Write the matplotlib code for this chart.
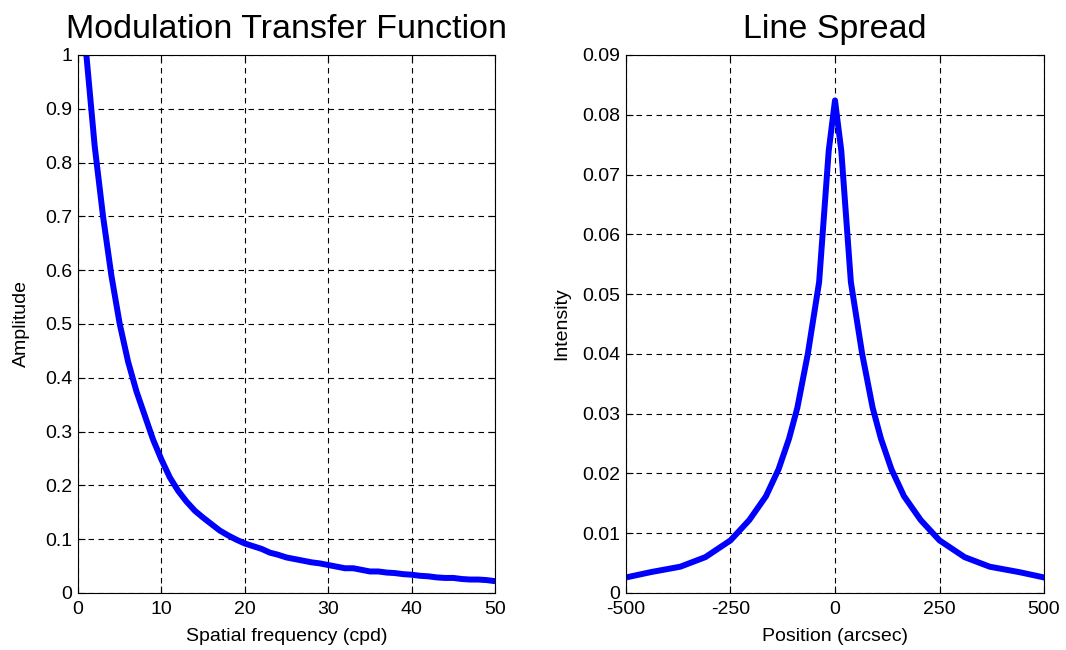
import matplotlib
matplotlib.use("Agg")
import matplotlib.pyplot as plt
from matplotlib.ticker import FuncFormatter

plt.rcParams['font.family'] = ['Liberation Sans', 'DejaVu Sans']
plt.rcParams['axes.unicode_minus'] = False

# MTF values
freq = [1, 2, 3, 4, 5, 6, 7, 8, 9, 10, 11, 12, 13, 14, 15, 16, 17, 18, 19, 20,
        21, 22, 23, 24, 25, 26, 27, 28, 29, 30, 31, 32, 33, 34, 35, 36, 37, 38,
        39, 40, 41, 42, 43, 44, 45, 46, 47, 48, 49, 50]
amp = [1.0, 0.83, 0.70, 0.59, 0.50, 0.43, 0.375, 0.33, 0.285, 0.248, 0.215,
       0.19, 0.17, 0.153, 0.14, 0.128, 0.116, 0.107, 0.099, 0.092, 0.087,
       0.082, 0.075, 0.071, 0.066, 0.063, 0.060, 0.057, 0.055, 0.052, 0.049,
       0.046, 0.046, 0.043, 0.040, 0.040, 0.038, 0.037, 0.035, 0.034, 0.032,
       0.031, 0.029, 0.028, 0.028, 0.026, 0.025, 0.025, 0.024, 0.022]

# line spread, left half (mirrored for the right half)
pos_half = [-500, -440, -370, -310, -250, -205, -165, -135, -110, -90, -65,
            -38, -15, 0]
lsf_half = [0.0026, 0.0035, 0.0044, 0.0060, 0.0088, 0.0122, 0.0162, 0.0207,
            0.0258, 0.031, 0.040, 0.052, 0.074, 0.0824]
pos = pos_half + [-p for p in pos_half[-2::-1]]
lsf = lsf_half + lsf_half[-2::-1]

fig = plt.figure(figsize=(10.66, 6.5), dpi=100)
ax1 = fig.add_axes([0.0732, 0.0877, 0.3912, 0.8277])
ax2 = fig.add_axes([0.5872, 0.0877, 0.3922, 0.8277])

for ax in (ax1, ax2):
    ax.grid(True, color='black', linestyle=(0, (5, 4)), linewidth=0.8)
    ax.tick_params(direction='in', top=True, right=True, labelsize=14,
                   length=5, width=0.8)
    ax.tick_params(axis='x', pad=6)
    ax.tick_params(axis='y', pad=4)
    for s in ax.spines.values():
        s.set_linewidth(0.8)

ax1.plot(freq, amp, color='#0000ff', linewidth=4.3)
ax1.set_xlim(0, 50)
ax1.set_ylim(0, 1)
ax1.set_xticks([0, 10, 20, 30, 40, 50])
ax1.set_yticks([i / 10 for i in range(11)])
ax1.yaxis.set_major_formatter(FuncFormatter(lambda v, p: '%g' % round(v, 2)))
ax1.set_title('Modulation Transfer Function', fontsize=24.5, pad=12)
ax1.set_xlabel('Spatial frequency (cpd)', fontsize=14, labelpad=7)
ax1.set_ylabel('Amplitude', fontsize=14, labelpad=11)

ax2.plot(pos, lsf, color='#0000ff', linewidth=4.3)
ax2.set_xlim(-500, 500)
ax2.set_ylim(0, 0.09)
ax2.set_xticks([-500, -250, 0, 250, 500])
ax2.set_yticks([i / 100 for i in range(10)])
ax2.yaxis.set_major_formatter(FuncFormatter(lambda v, p: '%g' % round(v, 3)))
ax2.set_title('Line Spread', fontsize=24.5, pad=12)
ax2.set_xlabel('Position (arcsec)', fontsize=14, labelpad=7)
ax2.set_ylabel('Intensity', fontsize=14, labelpad=9)

fig.savefig('out.png', dpi=100)
